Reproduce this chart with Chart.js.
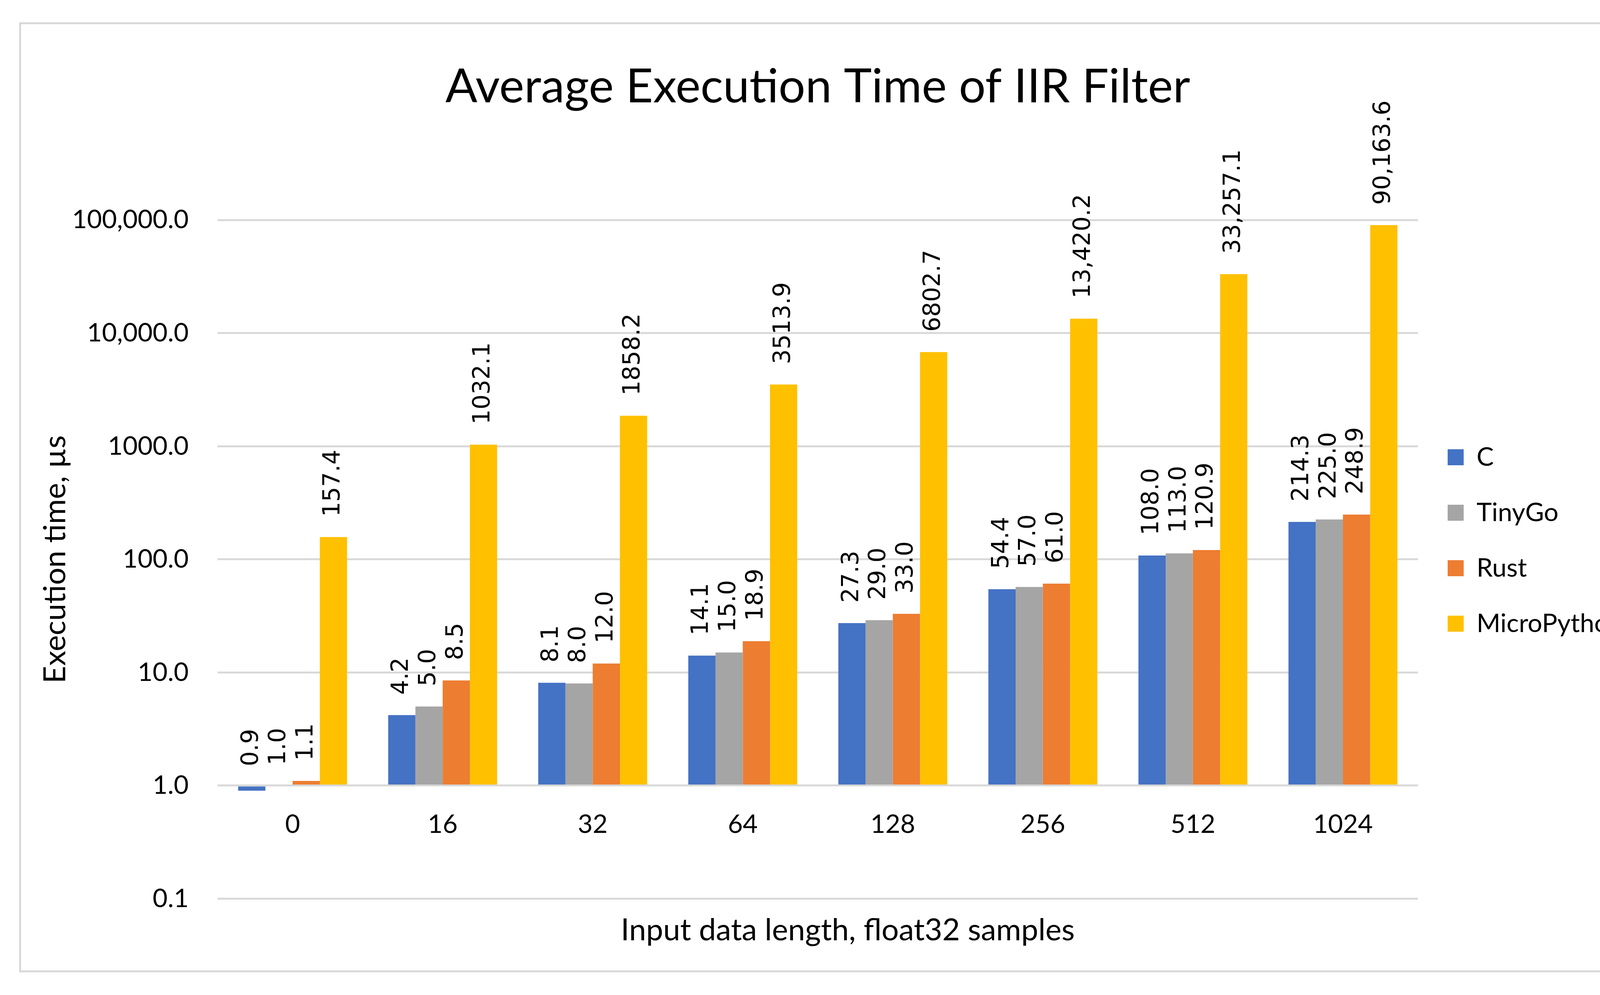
<!DOCTYPE html>
<html>
<head>
<meta charset="utf-8">
<script src="https://cdn.jsdelivr.net/npm/chart.js@4/dist/chart.umd.min.js"></script>
<style>
  html, body { margin: 0; padding: 0; background: #ffffff; }
  #wrap { position: relative; width: 4246px; height: 2547px; overflow: hidden; }
  #c { position: absolute; left: 0; top: 0; }
  #frame { position: absolute; left: 49px; top: 57px; width: 4150px; height: 2432px;
           box-sizing: border-box; border: 5px solid #D9D9D9; pointer-events: none; }
</style>
</head>
<body>
<div id="wrap">
  <canvas id="c" width="4246" height="2547"></canvas>
  <div id="frame"></div>
</div>
<script>
// ---- data ----
const categories = ['0', '16', '32', '64', '128', '256', '512', '1024'];
const seriesNames = ['C', 'TinyGo', 'Rust', 'MicroPython'];
const cValues = [0.9, 4.2, 8.1, 14.1, 27.3, 54.4, 108.0, 214.3];
const tinyGoValues = [1.0, 5.0, 8.0, 15.0, 29.0, 57.0, 113.0, 225.0];
const rustValues = [1.1, 8.5, 12.0, 18.9, 33.0, 61.0, 120.9, 248.9];
const microPythonValues = [157.4, 1032.1, 1858.2, 3513.9, 6802.7, 13420.2, 33257.1, 90163.6];
const yTickValues = [0.1, 1, 10, 100, 1000, 10000, 100000];
const yTickLabels = ['0.1', '1.0', '10.0', '100.0', '1000.0', '10,000.0', '100,000.0'];
const titleText = 'Average Execution Time of IIR Filter';
const yTitleText = 'Execution time, µs';
const xTitleText = 'Input data length, float32 samples';

// ---- styles / layout ----
const colors = ['#4472C4', '#A5A5A5', '#ED7D31', '#FFC000'];
const FONT = 'Lato';
const LABEL_FONT = '"DejaVu Sans"';
const W = 4246;
const PLOT_LEFT = 557;       // target chart-area left
const PLOT_RIGHT = 3630;     // target chart-area right
const LEGEND_FONT = 66, LEGEND_BOX = 41, LEGEND_PAD = 76;
const XTITLE_CENTER = 2201;  // target centre of bottom axis title
const YTITLE_CENTER = 142;   // target centre of left axis title
const YTITLE_SIZE = 78;

// legend width that Chart.js will fit, used to place the chart area's right edge
const mctx = document.createElement('canvas').getContext('2d');
mctx.font = LEGEND_FONT + 'px ' + FONT;
const legendTextW = Math.max(...seriesNames.map(n => mctx.measureText(n).width));
const legendFitW = LEGEND_PAD + LEGEND_BOX + LEGEND_FONT / 2 + legendTextW + 10;
const padRight = Math.max(0, (W - PLOT_RIGHT) - legendFitW);
const padLeft = Math.min(175, Math.max(0, 2 * XTITLE_CENTER - W + padRight));
const yTitleLH = YTITLE_SIZE * 1.2;
const yTitlePadTop = YTITLE_CENTER - padLeft - yTitleLH / 2;

function fmtLabel(v) {
  if (v >= 10000) {
    return v.toLocaleString('en-US', { minimumFractionDigits: 1, maximumFractionDigits: 1 });
  }
  return v.toFixed(1);
}

const dataLabelPlugin = {
  id: 'rotatedLabels',
  afterDatasetsDraw(chart) {
    const ctx = chart.ctx;
    ctx.save();
    ctx.fillStyle = '#000000';
    ctx.font = '60px ' + LABEL_FONT;
    ctx.textAlign = 'left';
    ctx.textBaseline = 'middle';
    chart.data.datasets.forEach((ds, di) => {
      const meta = chart.getDatasetMeta(di);
      meta.data.forEach((el, i) => {
        const top = Math.min(el.y, el.base);
        ctx.save();
        ctx.translate(el.x, top - 52);
        ctx.rotate(-Math.PI / 2);
        ctx.fillText(fmtLabel(ds.data[i]), 0, 0);
        ctx.restore();
      });
    });
    ctx.restore();
  }
};

const legendShift = {
  id: 'legendShift',
  afterLayout(chart) {
    if (chart.legend) {
      chart.legend.top += 110;
      chart.legend.bottom += 110;
    }
  }
};

const seriesValues = [cValues, tinyGoValues, rustValues, microPythonValues];

new Chart(document.getElementById('c'), {
  type: 'bar',
  data: {
    labels: categories,
    datasets: seriesNames.map((name, k) => ({
      label: name,
      data: seriesValues[k],
      backgroundColor: colors[k],
      borderWidth: 0,
      base: 1,
      categoryPercentage: 0.726,
      barPercentage: 1.0
    }))
  },
  options: {
    responsive: false,
    devicePixelRatio: 1,
    animation: false,
    layout: { padding: { left: padLeft, right: padRight, top: 0, bottom: 0 } },
    scales: {
      x: {
        type: 'category',
        position: { y: 1 },
        offset: true,
        grid: { display: false, drawTicks: false },
        border: { display: false },
        ticks: { color: '#000000', font: { family: FONT, size: 66 }, padding: 60, maxRotation: 0 }
      },
      y: {
        type: 'logarithmic',
        position: 'left',
        min: 0.1,
        max: 100000,
        afterBuildTicks(axis) {
          axis.ticks = yTickValues.map(v => ({ value: v }));
        },
        afterFit(axis) {
          axis.width = PLOT_LEFT - padLeft;
        },
        grid: { color: '#D9D9D9', lineWidth: 5, drawTicks: false },
        border: { display: false },
        ticks: {
          color: '#000000',
          font: { family: FONT, size: 66 },
          padding: 74,
          callback(value) {
            const idx = yTickValues.findIndex(t => Math.abs(t - value) / t < 1e-6);
            return idx >= 0 ? yTickLabels[idx] : '';
          }
        },
        title: {
          display: true,
          text: yTitleText,
          color: '#000000',
          font: { family: FONT, size: YTITLE_SIZE },
          padding: { top: yTitlePadTop, bottom: 0 }
        }
      }
    },
    plugins: {
      title: {
        display: true,
        text: titleText,
        color: '#000000',
        fullSize: false,
        font: { family: FONT, size: 121, weight: 'normal' },
        padding: { top: 150, bottom: 268 }
      },
      subtitle: {
        display: true,
        text: xTitleText,
        position: 'bottom',
        color: '#000000',
        fullSize: true,
        font: { family: FONT, size: 78, weight: 'normal' },
        padding: { top: 35, bottom: 118 }
      },
      legend: {
        display: true,
        position: 'right',
        align: 'center',
        fullSize: true,
        labels: {
          color: '#000000',
          font: { family: FONT, size: LEGEND_FONT },
          boxWidth: LEGEND_BOX,
          boxHeight: LEGEND_BOX,
          padding: LEGEND_PAD
        }
      },
      tooltip: { enabled: false }
    }
  },
  plugins: [dataLabelPlugin, legendShift]
});
</script>
</body>
</html>
